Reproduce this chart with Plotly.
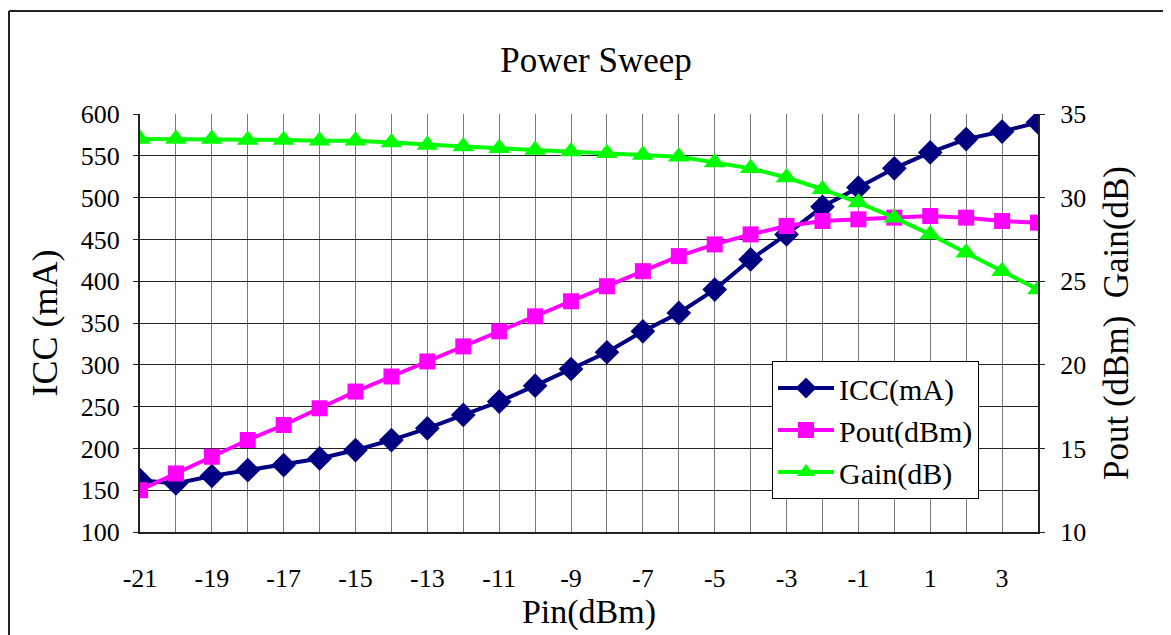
import plotly.graph_objects as go

pin = list(range(-21, 5))
icc = [162, 158, 167, 174, 180, 188, 198, 210, 224, 240, 256, 275, 295, 315,
       340, 362, 390, 426, 456, 489, 512, 535, 554, 570, 579, 590]
pout = [12.5, 13.5, 14.5, 15.5, 16.4, 17.4, 18.4, 19.3, 20.2, 21.1, 22.0, 22.9,
        23.8, 24.7, 25.6, 26.5, 27.2, 27.8, 28.3, 28.6, 28.7, 28.8, 28.9, 28.8,
        28.6, 28.5]
gain = [33.5, 33.5, 33.5, 33.45, 33.45, 33.4, 33.4, 33.3, 33.15, 33.05, 32.95,
        32.85, 32.75, 32.65, 32.55, 32.45, 32.1, 31.75, 31.2, 30.5, 29.7, 28.8,
        27.8, 26.7, 25.6, 24.5]
x_tick_vals = list(range(-21, 5))
x_tick_text = [str(v) if v % 2 != 0 else "" for v in x_tick_vals]

FONT = "Liberation Serif"
OFF = 8  # page body margin offset
L, T, PW, PH = 140 - OFF, 114 - OFF, 898, 418

fig = go.Figure()
fig.add_trace(go.Scatter(
    x=pin, y=icc, name="ICC(mA)", mode="lines+markers",
    line=dict(color="#000080", width=4),
    marker=dict(symbol="diamond", size=19, color="#000080"),
    yaxis="y"))
fig.add_trace(go.Scatter(
    x=pin, y=pout, name="Pout(dBm)", mode="lines+markers",
    line=dict(color="#FF00FF", width=4),
    marker=dict(symbol="square", size=16, color="#FF00FF"),
    yaxis="y2"))
fig.add_trace(go.Scatter(
    x=pin, y=gain, name="Gain(dB)", mode="lines+markers",
    line=dict(color="#00FF00", width=4),
    marker=dict(symbol="triangle-up", size=19, color="#00FF00"),
    yaxis="y2"))

border_left = (1 - L) / PW
border_top = (T + PH - 3) / PH

fig.update_layout(
    width=1171, height=635,
    margin=dict(l=L, r=1171 - L - PW, t=T, b=635 - T - PH, autoexpand=False),
    paper_bgcolor="white", plot_bgcolor="white",
    font=dict(family=FONT, color="black", size=26),
    title=dict(text="Power Sweep", x=(596 - OFF) / 1171, xanchor="center",
               y=1 - (60 - OFF) / 635, yanchor="middle", yref="container",
               font=dict(family=FONT, size=35, color="black")),
    xaxis=dict(
        range=[-21, 4], tickmode="array", tickvals=x_tick_vals, ticktext=x_tick_text,
        showgrid=True, gridcolor="#777777", gridwidth=1,
        showline=True, linecolor="#222222", linewidth=2, mirror=False,
        ticks="", ticklabelstandoff=22, zeroline=False,
        tickfont=dict(family=FONT, size=26),
        title=dict(text="Pin(dBm)", standoff=2, font=dict(family=FONT, size=34)),
    ),
    yaxis=dict(
        range=[100, 600], dtick=50, showgrid=True, gridcolor="#222222", gridwidth=1,
        showline=True, linecolor="#222222", linewidth=2,
        ticks="outside", ticklen=5, tickcolor="#222222", ticklabelstandoff=8,
        zeroline=False, tickfont=dict(family=FONT, size=26),
        title=dict(text="ICC (mA)", standoff=12, font=dict(family=FONT, size=36)),
    ),
    yaxis2=dict(
        range=[10, 35], dtick=5, overlaying="y", side="right", showgrid=False,
        showline=True, linecolor="#222222", linewidth=2,
        ticks="outside", ticklen=5, tickcolor="#222222", ticklabelstandoff=10,
        zeroline=False, tickfont=dict(family=FONT, size=26),
        title=dict(text="Pout (dBm)\u00a0\u00a0Gain(dB)", standoff=18,
                   font=dict(family=FONT, size=35)),
    ),
    legend=dict(
        x=(772 - 140) / PW, y=(532 - 361) / PH, xanchor="left", yanchor="top",
        bgcolor="white", bordercolor="black", borderwidth=1,
        font=dict(family=FONT, size=30), itemwidth=56, tracegroupgap=0,
    ),
    showlegend=True,
    shapes=[
        dict(type="line", xref="paper", yref="paper",
             x0=border_left, x1=1.5, y0=border_top, y1=border_top,
             line=dict(color="#222222", width=2)),
        dict(type="line", xref="paper", yref="paper",
             x0=border_left, x1=border_left, y0=-0.5, y1=border_top,
             line=dict(color="#222222", width=2)),
    ],
)

fig.write_html("out.html")
